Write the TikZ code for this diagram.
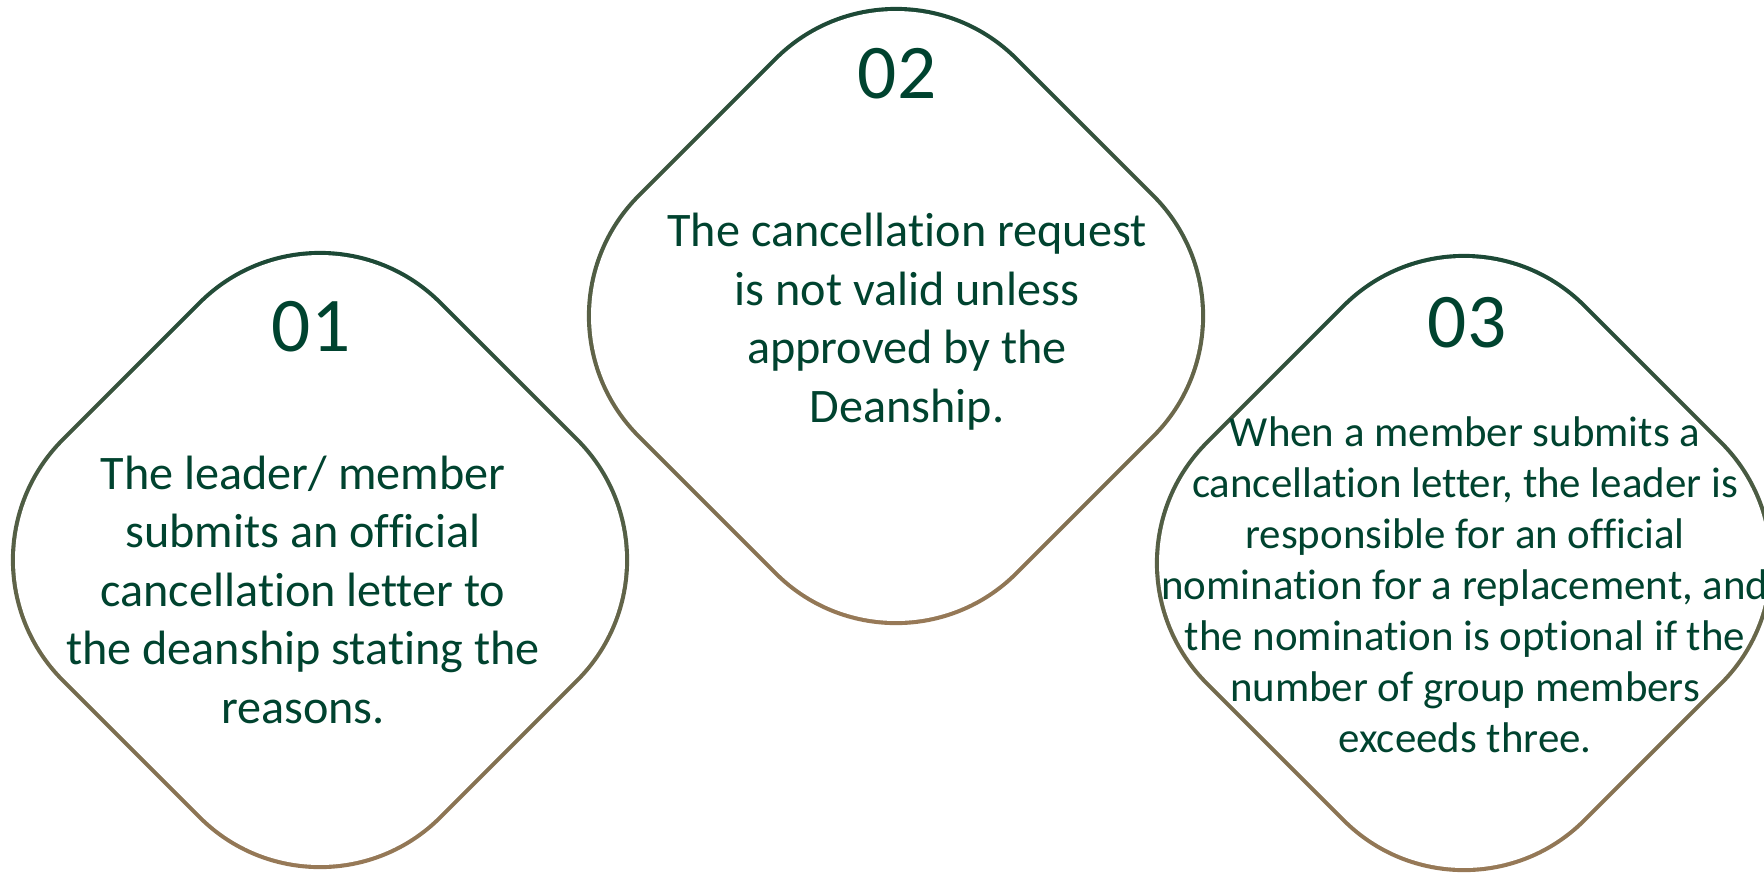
\documentclass[tikz,border=0pt]{standalone}
\usepackage{fontspec}
\setmainfont[Ligatures=NoCommon]{Carlito}
\definecolor{deangreen}{HTML}{00432F}
\definecolor{ringtop}{HTML}{0D4332}
\definecolor{ringbot}{HTML}{A67F5B}
\tikzset{
  numlabel/.style={text=deangreen, font=\fontsize{22}{26}\selectfont, inner sep=0pt, anchor=base},
  bodytext/.style={text=deangreen, align=center, font=\fontsize{13.7}{16.6}\selectfont, inner sep=0pt, anchor=base},
  smalltext/.style={bodytext, font=\fontsize{12.2}{14.5}\selectfont}
}
\begin{document}
\begin{tikzpicture}[x=0.01cm, y=-0.01cm]
      \useasboundingbox (0,0) rectangle (1764,872);
      \clip (0,0) rectangle (1764,872);
      % rounded diamonds, outline shaded from green to tan
      \foreach \cx/\cy in {320/560, 896/316, 1464/563} {
        \shade[top color=ringtop, bottom color=ringbot, rounded corners=1.72cm]
          (\cx,\cy-380.4) -- (\cx+380.4,\cy) -- (\cx,\cy+380.4) -- (\cx-380.4,\cy) -- cycle;
        \fill[white, rounded corners=1.68cm]
          (\cx,\cy-374.6) -- (\cx+374.6,\cy) -- (\cx,\cy+374.6) -- (\cx-374.6,\cy) -- cycle;
      }
      \node[numlabel] (num1) at (311,351) {01};
      \node[numlabel] (num2) at (897,98) {02};
      \node[numlabel] (num3) at (1467,347) {03};
      % base anchor sits on the last line
      \node[bodytext] (step1) at (303,723) {The leader/ member\\submits an official\\cancellation letter to\\the deanship stating the\\reasons.};
      \node[bodytext] (step2) at (907,422) {The cancellation request\\is not valid unless\\approved by the\\Deanship.};
      \node[smalltext] (step3) at (1465,752) {When a member submits a\\cancellation letter, the leader is\\responsible for an official\\nomination for a replacement, and\\the nomination is optional if the\\number of group members\\exceeds three.};
    \end{tikzpicture}
\end{document}
